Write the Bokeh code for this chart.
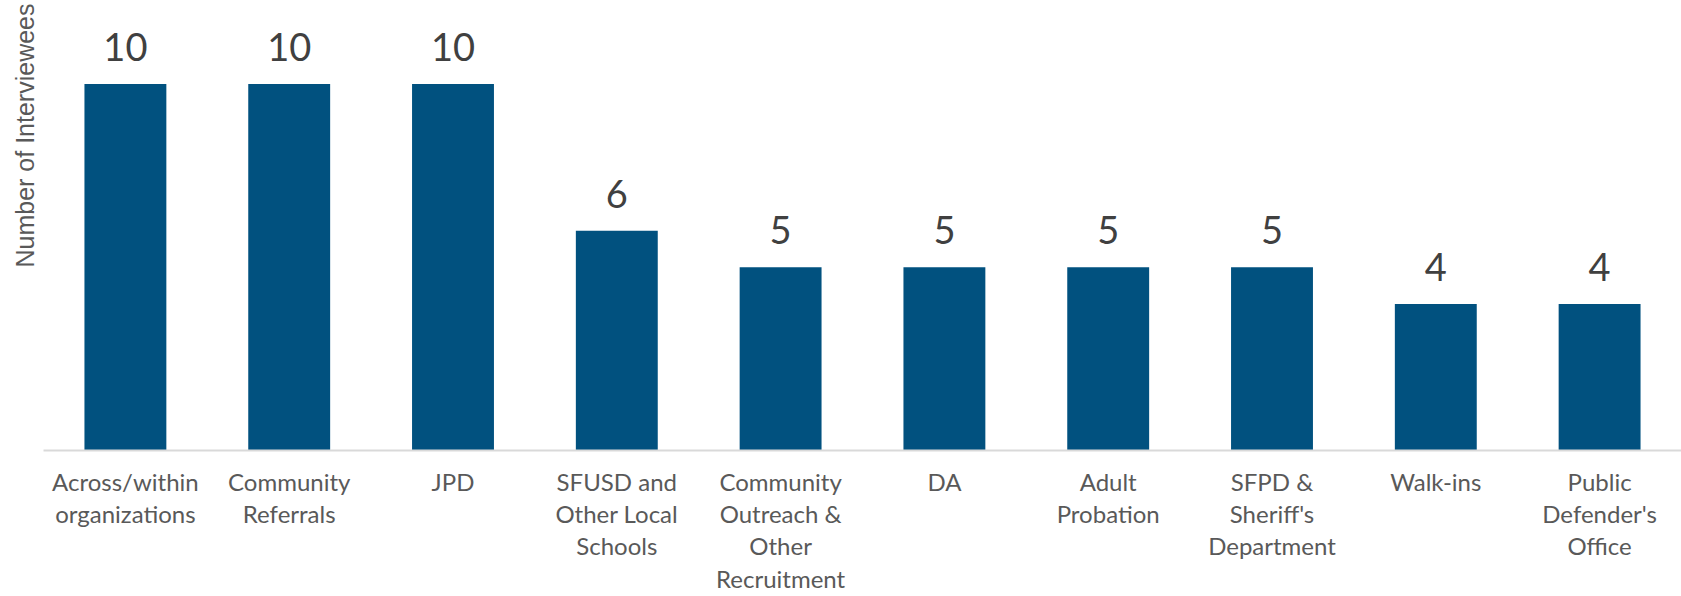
from bokeh.plotting import figure
from bokeh.models import FactorRange, Range1d, Title, ColumnDataSource
from bokeh.core.properties import value
from bokeh.embed import file_html
from bokeh.resources import INLINE

categories = [
    "Across/within\norganizations",
    "Community\nReferrals",
    "JPD",
    "SFUSD and\nOther Local\nSchools",
    "Community\nOutreach &\nOther\nRecruitment",
    "DA",
    "Adult\nProbation",
    "SFPD &\nSheriff's\nDepartment",
    "Walk-ins",
    "Public\nDefender's\nOffice",
]
counts = [10, 10, 10, 6, 5, 5, 5, 5, 4, 4]
count_labels = [str(c) for c in counts]

src = ColumnDataSource(dict(cat=categories, val=counts, lab=count_labels))

p = figure(
    width=1681, height=596,
    x_range=FactorRange(*categories, range_padding=0),
    y_range=Range1d(0, 12.2),
    output_backend="svg", toolbar_location=None,
    min_border_left=43, min_border_right=0, min_border_top=3, min_border_bottom=146,
)
p.outline_line_color = None
p.xgrid.visible = False
p.ygrid.visible = False
p.yaxis.visible = False
p.background_fill_color = "white"
p.border_fill_color = "white"

p.vbar(x="cat", top="val", width=0.5, source=src, fill_color="#01517F", line_color=None)
p.text(x="cat", y="val", text="lab", source=src, text_align="center",
       text_baseline="alphabetic", y_offset=-37, text_font=value("Lato"),
       text_font_size="38px", text_color="#404040")

ax = p.xaxis[0]
ax.axis_line_color = "#D9D9D9"
ax.axis_line_width = 2
ax.major_tick_line_color = None
ax.minor_tick_line_color = None
ax.major_label_text_font = "Lato"
ax.major_label_text_font_size = "24px"
ax.major_label_text_color = "#595959"
ax.major_label_text_line_height = 1.12
ax.major_label_standoff = 10

title = Title(text="Number of Interviewees", align="right", text_font="Liberation Sans",
              text_font_size="25px", text_font_style="normal", text_color="#595959",
              standoff=10, offset=0)
p.add_layout(title, "left")

open("out.html", "w").write(file_html(p, INLINE))
